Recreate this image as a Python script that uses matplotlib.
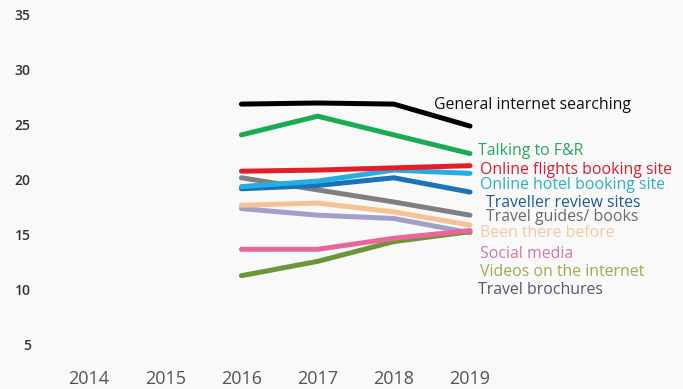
import matplotlib
matplotlib.use("Agg")
import matplotlib.pyplot as plt

years = [2016, 2017, 2018, 2019]

names = ["General internet searching", "Talking to F&R", "Online flights booking site",
         "Online hotel booking site", "Traveller review sites", "Travel guides/ books",
         "Been there before", "Social media", "Videos on the internet", "Travel brochures"]

general = [26.9, 27.0, 26.9, 24.9]
talking = [24.1, 25.8, 24.1, 22.4]
flights = [20.8, 20.9, 21.1, 21.3]
hotel = [19.4, 19.9, 20.9, 20.6]
traveller = [19.2, 19.5, 20.2, 18.9]
guides = [20.2, 19.1, 18.0, 16.8]
been = [17.7, 17.9, 17.1, 15.9]
social = [13.7, 13.7, 14.7, 15.4]
videos = [11.3, 12.6, 14.4, 15.3]
brochures = [17.4, 16.8, 16.5, 15.2]

series = [general, talking, flights, hotel, traveller, guides, been, social, videos, brochures]
line_colors = ["#000000", "#1aab54", "#e41e26", "#24aee4", "#1b72b8", "#808080",
               "#f5c293", "#e8669c", "#6b9636", "#a39fca"]
text_colors = ["#111111", "#24a85c", "#d01f36", "#2bb0c8", "#1d5b95", "#6a6a6a",
               "#f2c9a2", "#cf7aa8", "#a1aa4e", "#55556e"]
# label anchor (x in years, y in value units) next to the right end of each line
label_pos = [(2018.53, 26.8), (2019.1, 22.6), (2019.13, 20.95), (2019.13, 19.55),
             (2019.21, 17.95), (2019.21, 16.6), (2019.13, 15.15), (2019.13, 13.3),
             (2019.13, 11.6), (2019.1, 10.0)]

plt.rcParams["font.family"] = ["Open Sans", "DejaVu Sans"]

fig = plt.figure(figsize=(6.83, 3.89), dpi=100)
fig.patch.set_facecolor("#f9f9f9")
ax = fig.add_axes([60 / 683, 34 / 389, 623 / 683, 347 / 389])
ax.set_facecolor("#f9f9f9")

# draw bottom entries first so the top series stay on top
for i in range(len(series) - 1, -1, -1):
    ax.plot(years, series[i], color=line_colors[i], linewidth=3.6,
            solid_capstyle="round", zorder=2 + len(series) - i)

for i, name in enumerate(names):
    ax.text(label_pos[i][0], label_pos[i][1], name, color=text_colors[i], fontsize=11.4,
            va="center", ha="left")

ax.set_xlim(2013.619, 2021.795)
ax.set_ylim(4.09, 35.636)
ax.set_xticks([2014, 2015, 2016, 2017, 2018, 2019])
ax.set_yticks([5, 10, 15, 20, 25, 30, 35])
ax.tick_params(axis="x", length=0, pad=11, labelsize=13, labelcolor="#555555")
ax.tick_params(axis="y", length=0, pad=21, labelsize=10, labelcolor="#333333")
for lab in ax.get_yticklabels():
    lab.set_fontweight("semibold")
for s in ax.spines.values():
    s.set_visible(False)

fig.savefig("out.png", dpi=100, facecolor=fig.get_facecolor())
